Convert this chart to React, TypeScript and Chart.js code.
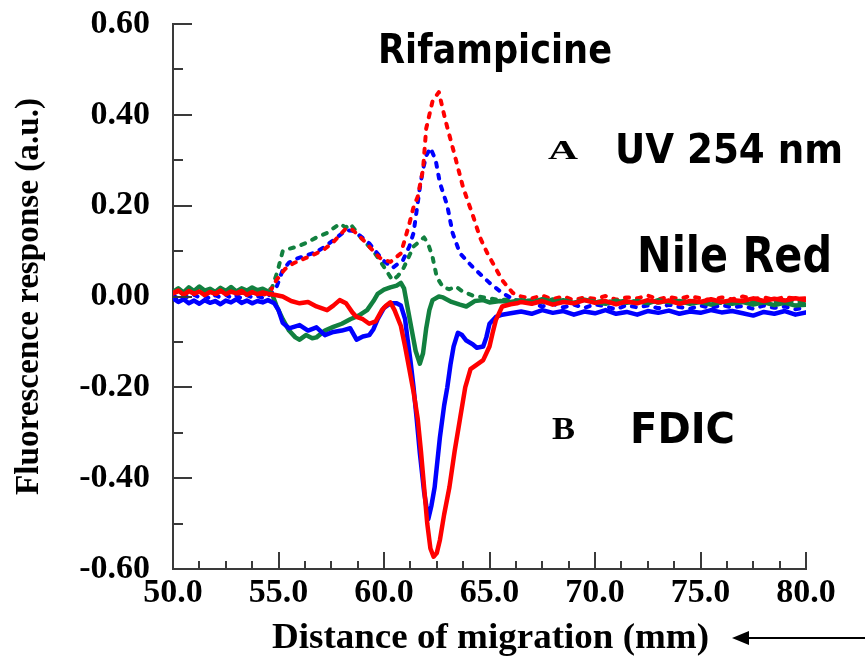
import React, { useEffect, useRef } from "react";
import { Chart, registerables } from "chart.js";

Chart.register(...registerables);

// ---------- data ----------
const LEFT_X = [50, 50.25, 50.5, 50.75, 51, 51.25, 51.5, 51.75, 52, 52.25, 52.5, 52.75, 53, 53.25, 53.5, 53.75, 54, 54.25, 54.5];
const RIGHT_X = [67, 67.5, 68, 68.5, 69, 69.5, 70, 70.5, 71, 71.5, 72, 72.5, 73, 73.5, 74, 74.5, 75, 75.5, 76, 76.5, 77, 77.5, 78, 78.5, 79, 79.5, 80];

// Solid traces (FDIC / Nile Red)
const solidBlueMidX = [54.8, 55.0, 55.2, 55.5, 56.0, 56.4, 56.8, 57.2, 57.6, 58.0, 58.4, 58.7, 59.0, 59.3, 59.5, 59.7, 60.0, 60.3, 60.6, 60.8, 61.0, 61.1, 61.25, 61.4, 61.55, 61.7, 61.9, 62.1, 62.25, 62.4, 62.65, 62.85, 63.0, 63.15, 63.3, 63.5, 63.7, 63.9, 64.2, 64.4, 64.7, 64.85, 65.0, 65.3, 65.6, 66.0, 66.5];
const solidBlueLeftY = [-0.004, -0.012, -0.006, -0.015, -0.009, -0.016, -0.008, -0.014, -0.01, -0.017, -0.009, -0.013, -0.006, -0.014, -0.009, -0.015, -0.01, -0.013, -0.008];
const solidBlueMidY = [-0.015, -0.03, -0.058, -0.07, -0.063, -0.075, -0.068, -0.085, -0.078, -0.075, -0.07, -0.095, -0.088, -0.085, -0.072, -0.05, -0.025, -0.015, -0.015, -0.02, -0.05, -0.088, -0.14, -0.2, -0.27, -0.345, -0.43, -0.49, -0.46, -0.42, -0.31, -0.24, -0.2, -0.15, -0.11, -0.08, -0.085, -0.097, -0.105, -0.113, -0.11, -0.09, -0.06, -0.045, -0.04, -0.037, -0.033];
const solidBlueRightY = [-0.038, -0.03, -0.036, -0.032, -0.04, -0.033, -0.037, -0.03, -0.038, -0.034, -0.04, -0.032, -0.036, -0.031, -0.038, -0.033, -0.036, -0.03, -0.035, -0.032, -0.037, -0.042, -0.034, -0.038, -0.032, -0.04, -0.035];

const solidRedMidX = [54.8, 55.2, 55.6, 56.0, 56.4, 56.8, 57.3, 57.6, 57.9, 58.2, 58.5, 58.7, 59.0, 59.3, 59.6, 59.9, 60.1, 60.3, 60.5, 60.8, 61.0, 61.2, 61.4, 61.6, 61.75, 61.9, 62.05, 62.2, 62.35, 62.5, 62.65, 62.85, 63.1, 63.35, 63.6, 63.85, 64.1, 64.4, 64.7, 65.0, 65.15, 65.3, 65.6, 66.0, 66.3, 66.5];
const solidRedLeftY = [0.008, 0.013, 0.004, 0.012, 0.006, 0.011, 0.003, 0.01, 0.006, 0.013, 0.005, 0.011, 0.007, 0.012, 0.004, 0.01, 0.005, 0.009, 0.006];
const solidRedMidY = [0.004, 0.0, -0.01, -0.015, -0.012, -0.022, -0.03, -0.02, -0.008, -0.015, -0.035, -0.045, -0.05, -0.06, -0.055, -0.03, -0.02, -0.013, -0.03, -0.065, -0.11, -0.16, -0.21, -0.27, -0.34, -0.42, -0.5, -0.555, -0.573, -0.565, -0.536, -0.48, -0.42, -0.34, -0.27, -0.2, -0.16, -0.15, -0.14, -0.11, -0.08, -0.052, -0.022, -0.017, -0.015, -0.012];
const solidRedRightY = [-0.016, -0.01, -0.018, -0.012, -0.015, -0.008, -0.014, -0.01, -0.017, -0.011, -0.015, -0.008, -0.013, -0.009, -0.016, -0.01, -0.012, -0.006, -0.012, -0.008, -0.01, -0.004, -0.01, -0.005, -0.009, -0.004, -0.008];

const solidGreenMidX = [54.7, 54.9, 55.2, 55.5, 55.8, 56.0, 56.3, 56.6, 56.8, 57.2, 57.6, 58.0, 58.4, 58.8, 59.2, 59.5, 59.7, 60.0, 60.3, 60.6, 60.8, 60.95, 61.1, 61.3, 61.5, 61.7, 61.85, 62.0, 62.15, 62.3, 62.6, 62.8, 63.2, 63.6, 63.9, 64.3, 64.7, 65.0, 65.5, 66.0, 66.5];
const solidGreenLeftY = [0.01, 0.018, 0.009, 0.02, 0.012, 0.022, 0.013, 0.017, 0.01, 0.019, 0.012, 0.021, 0.011, 0.018, 0.013, 0.02, 0.014, 0.017, 0.011];
const solidGreenMidY = [0.005, -0.02, -0.05, -0.075, -0.09, -0.095, -0.085, -0.092, -0.09, -0.075, -0.067, -0.06, -0.05, -0.042, -0.03, -0.01, 0.006, 0.015, 0.02, 0.024, 0.03, 0.018, -0.02, -0.07, -0.12, -0.148, -0.125, -0.07, -0.03, -0.008, 0.0, -0.002, -0.012, -0.018, -0.022, -0.01, -0.008, -0.013, -0.01, -0.012, -0.008];
const solidGreenRightY = [-0.013, -0.006, -0.012, -0.008, -0.014, -0.007, -0.012, -0.016, -0.009, -0.014, -0.01, -0.015, -0.008, -0.013, -0.01, -0.016, -0.012, -0.018, -0.011, -0.016, -0.012, -0.018, -0.013, -0.019, -0.014, -0.02, -0.018];

// Dotted traces (UV 254 nm)
const dashGreenMidX = [54.7, 54.95, 55.2, 55.5, 55.9, 56.4, 56.8, 57.3, 57.9, 58.2, 58.4, 58.9, 59.5, 60.0, 60.4, 60.65, 60.9, 61.4, 61.9, 62.1, 62.3, 62.5, 62.8, 63.1, 63.4, 63.7, 64.2, 65.0, 65.5, 66.0, 66.5];
const dashGreenLeftY = [0.006, 0.012, 0.005, 0.013, 0.008, 0.015, 0.007, 0.012, 0.009, 0.014, 0.006, 0.012, 0.008, 0.013, 0.01, 0.014, 0.009, 0.012, 0.012];
const dashGreenMidY = [0.02, 0.055, 0.1, 0.105, 0.11, 0.12, 0.13, 0.14, 0.16, 0.152, 0.16, 0.13, 0.1, 0.065, 0.036, 0.045, 0.06, 0.11, 0.13, 0.115, 0.087, 0.043, 0.02, 0.016, 0.022, 0.012, 0.002, -0.004, -0.008, -0.006, -0.01];
const dashGreenRightY = [-0.008, -0.012, -0.006, -0.01, -0.014, -0.008, -0.012, -0.009, -0.013, -0.008, -0.012, -0.01, -0.014, -0.009, -0.012, -0.008, -0.013, -0.01, -0.015, -0.009, -0.012, -0.01, -0.014, -0.011, -0.013, -0.01, -0.014];

const dashBlueMidX = [54.9, 55.2, 55.5, 55.9, 56.3, 56.8, 57.2, 57.6, 58.2, 58.5, 58.7, 59.3, 59.95, 60.4, 60.9, 61.2, 61.4, 61.55, 61.7, 61.85, 62.0, 62.2, 62.45, 62.65, 63.0, 63.25, 63.6, 64.2, 65.0, 65.6, 66.2];
const dashBlueLeftY = [0.002, -0.004, 0.003, -0.003, 0.004, -0.002, 0.002, -0.005, 0.003, -0.002, 0.004, -0.003, 0.002, -0.004, 0.003, -0.002, 0.001, -0.003, 0.0];
const dashBlueMidY = [0.02, 0.058, 0.075, 0.084, 0.09, 0.098, 0.11, 0.124, 0.146, 0.145, 0.14, 0.117, 0.08, 0.063, 0.08, 0.11, 0.14, 0.19, 0.24, 0.28, 0.31, 0.327, 0.3, 0.25, 0.2, 0.14, 0.095, 0.065, 0.03, 0.008, -0.008];
const dashBlueRightY = [-0.015, -0.022, -0.016, -0.024, -0.018, -0.025, -0.017, -0.022, -0.028, -0.019, -0.024, -0.02, -0.026, -0.018, -0.023, -0.027, -0.02, -0.025, -0.019, -0.024, -0.021, -0.027, -0.02, -0.025, -0.022, -0.028, -0.024];

const dashRedMidX = [54.9, 55.3, 55.7, 56.3, 56.8, 57.2, 57.6, 58.2, 58.5, 58.9, 59.3, 59.8, 60.3, 60.8, 61.2, 61.4, 61.6, 61.85, 62.0, 62.3, 62.6, 62.9, 63.3, 63.75, 64.2, 64.55, 64.9, 65.2, 65.6, 66.1, 66.5];
const dashRedLeftY = [0.006, 0.011, 0.004, 0.01, 0.005, 0.012, 0.006, 0.009, 0.004, 0.011, 0.005, 0.01, 0.006, 0.008, 0.004, 0.009, 0.004, 0.006, 0.002];
const dashRedMidY = [0.036, 0.06, 0.073, 0.085, 0.095, 0.105, 0.12, 0.15, 0.147, 0.13, 0.11, 0.085, 0.076, 0.095, 0.16, 0.197, 0.22, 0.28, 0.37, 0.43, 0.45, 0.39, 0.32, 0.24, 0.18, 0.13, 0.095, 0.07, 0.036, 0.008, 0.0];
const dashRedRightY = [-0.004, 0.002, -0.006, 0.0, -0.008, -0.002, -0.005, 0.001, -0.007, -0.002, -0.004, 0.002, -0.006, -0.001, -0.005, 0.001, -0.004, -0.008, -0.002, -0.006, 0.0, -0.005, -0.002, -0.007, -0.001, -0.005, -0.004];

const X_MIN = 50, X_MAX = 80, X_STEP = 5;
const Y_MIN = -0.6, Y_MAX = 0.6, Y_STEP = 0.2;

const TITLE_X = "Distance of migration (mm)";
const TITLE_Y = "Fluorescence response (a.u.)";
const LABEL_COMPOUND = "Rifampicine";
const LABEL_A = "A";
const LABEL_UV = "UV 254 nm";
const LABEL_NILE = "Nile Red";
const LABEL_B = "B";
const LABEL_FDIC = "FDIC";

// ---------- styling ----------
const RED = "#FF0000";
const BLUE = "#0000FF";
const GREEN = "#12803F";
const AXIS = "#3a3a3a";
const SERIF = "'Liberation Serif', 'Times New Roman', serif";
const ROUND = "'DejaVu Sans', 'Noto Sans', sans-serif";

function pts(xs: number[], ys: number[]) {
  return xs.map((x, i) => ({ x, y: ys[i] }));
}

function fitText(ctx: CanvasRenderingContext2D, text: string, left: number, baseline: number, width: number, font: string) {
  ctx.save();
  ctx.font = font;
  const w = ctx.measureText(text).width;
  ctx.translate(left, baseline);
  ctx.scale(width / w, 1);
  ctx.textAlign = "left";
  ctx.textBaseline = "alphabetic";
  ctx.fillStyle = "#000";
  ctx.fillText(text, 0, 0);
  ctx.restore();
}

const decor = {
  id: "decor",
  afterDatasetsDraw(chart: any) {
    const ctx: CanvasRenderingContext2D = chart.ctx;
    const xs = chart.scales.x;
    const ys = chart.scales.y;
    const a = chart.chartArea;
    ctx.save();
    ctx.strokeStyle = AXIS;
    ctx.lineWidth = 2;
    ctx.beginPath();
    for (let k = -6; k <= 6; k++) {
      const py = Math.round(ys.getPixelForValue(k / 10));
      const len = k % 2 === 0 ? 19 : 10;
      ctx.moveTo(a.left, py);
      ctx.lineTo(a.left + len, py);
    }
    for (let i = 0; i <= 24; i++) {
      const px = Math.round(xs.getPixelForValue(X_MIN + i * 1.25));
      const len = i % 4 === 0 ? 17 : 8;
      ctx.moveTo(px, a.bottom);
      ctx.lineTo(px, a.bottom - len);
    }
    ctx.stroke();
    ctx.restore();

    // annotations
    fitText(ctx, LABEL_COMPOUND, 378, 63, 234, `bold 41px ${ROUND}`);
    fitText(ctx, LABEL_A, 548, 159, 30, `bold 27px ${SERIF}`);
    fitText(ctx, LABEL_UV, 615, 163, 228, `bold 41px ${ROUND}`);
    fitText(ctx, LABEL_NILE, 637, 272, 195, `bold 50px ${ROUND}`);
    fitText(ctx, LABEL_B, 552, 439, 23, `bold 31px ${SERIF}`);
    fitText(ctx, LABEL_FDIC, 630, 443, 105, `bold 42px ${ROUND}`);

    // axis titles
    fitText(ctx, TITLE_X, 272, 648, 437, `bold 35px ${SERIF}`);
    ctx.save();
    ctx.translate(38, 495);
    ctx.rotate(-Math.PI / 2);
    fitText(ctx, TITLE_Y, 0, 0, 397, `bold 33px ${SERIF}`);
    ctx.restore();

    // arrow
    ctx.save();
    ctx.strokeStyle = "#000";
    ctx.fillStyle = "#000";
    ctx.lineWidth = 2;
    ctx.beginPath();
    ctx.moveTo(745, 638);
    ctx.lineTo(865, 638);
    ctx.stroke();
    ctx.beginPath();
    ctx.moveTo(732, 638);
    ctx.lineTo(749, 631);
    ctx.lineTo(749, 645);
    ctx.closePath();
    ctx.fill();
    ctx.restore();
  },
};

export default function App() {
  const ref = useRef<HTMLCanvasElement>(null);
  useEffect(() => {
    const solid = { borderWidth: 4.5, pointRadius: 0, tension: 0, borderJoinStyle: "round", borderCapStyle: "round", fill: false };
    const dotted = { borderWidth: 4, pointRadius: 0, tension: 0, borderDash: [4, 8], borderCapStyle: "round", borderJoinStyle: "round", fill: false };
    const chart = new Chart(ref.current as HTMLCanvasElement, {
      type: "line",
      data: {
        datasets: [
          { label: "FDIC (red)", data: pts([...LEFT_X, ...solidRedMidX, ...RIGHT_X], [...solidRedLeftY, ...solidRedMidY, ...solidRedRightY]), borderColor: RED, ...solid },
          { label: "FDIC (blue)", data: pts([...LEFT_X, ...solidBlueMidX, ...RIGHT_X], [...solidBlueLeftY, ...solidBlueMidY, ...solidBlueRightY]), borderColor: BLUE, ...solid },
          { label: "FDIC (green)", data: pts([...LEFT_X, ...solidGreenMidX, ...RIGHT_X], [...solidGreenLeftY, ...solidGreenMidY, ...solidGreenRightY]), borderColor: GREEN, ...solid },
          { label: "UV 254 nm (red)", data: pts([...LEFT_X, ...dashRedMidX, ...RIGHT_X], [...dashRedLeftY, ...dashRedMidY, ...dashRedRightY]), borderColor: RED, ...dotted },
          { label: "UV 254 nm (blue)", data: pts([...LEFT_X, ...dashBlueMidX, ...RIGHT_X], [...dashBlueLeftY, ...dashBlueMidY, ...dashBlueRightY]), borderColor: BLUE, ...dotted },
          { label: "UV 254 nm (green)", data: pts([...LEFT_X, ...dashGreenMidX, ...RIGHT_X], [...dashGreenLeftY, ...dashGreenMidY, ...dashGreenRightY]), borderColor: GREEN, ...dotted },
        ] as any,
      },
      options: {
        animation: false,
        responsive: false,
        maintainAspectRatio: false,
        layout: { padding: { top: 24, right: 59, left: 0, bottom: 0 } },
        plugins: { legend: { display: false }, tooltip: { enabled: false }, title: { display: false } },
        scales: {
          x: {
            type: "linear",
            min: X_MIN,
            max: X_MAX,
            grid: { display: false, drawTicks: false },
            border: { display: true, color: AXIS, width: 2 },
            ticks: {
              stepSize: X_STEP,
              autoSkip: false,
              maxRotation: 0,
              padding: 4,
              color: "#000",
              font: { family: SERIF, size: 34, weight: "bold" },
              callback: (v: any) => Number(v).toFixed(1),
            },
            afterFit: (s: any) => { s.height = 88; s.paddingLeft = 0; s.paddingRight = 0; },
          },
          y: {
            type: "linear",
            min: Y_MIN,
            max: Y_MAX,
            grid: { display: false, drawTicks: false },
            border: { display: true, color: AXIS, width: 2 },
            ticks: {
              stepSize: Y_STEP,
              padding: 23,
              color: "#000",
              font: { family: SERIF, size: 34, weight: "bold" },
              callback: (v: any) => {
                const r = Math.round(Number(v) * 100) / 100;
                return (r === 0 ? 0 : r).toFixed(2);
              },
            },
            afterFit: (s: any) => { s.width = 173; s.paddingTop = 0; s.paddingBottom = 0; },
          },
        },
      } as any,
      plugins: [decor],
    });
    return () => chart.destroy();
  }, []);
  return (
    <div style={{ position: "fixed", left: 0, top: 0, width: 865, height: 657, background: "#fff" }}>
      <canvas ref={ref} width={865} height={657} style={{ display: "block" }} />
    </div>
  );
}
